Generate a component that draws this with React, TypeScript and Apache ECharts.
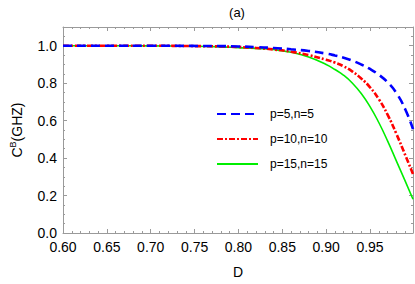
import React, { useEffect, useRef } from "react";
import * as echarts from "echarts";

const dValues = [0.60, 0.65, 0.70, 0.75, 0.78, 0.80, 0.82, 0.84, 0.86, 0.88, 0.90, 0.91, 0.92, 0.93, 0.94, 0.95, 0.96, 0.97, 0.98, 0.99, 0.999];
const blueValues = [1.0, 1.0, 1.0, 0.999, 0.998, 0.996, 0.993, 0.988, 0.981, 0.972, 0.958, 0.948, 0.936, 0.92, 0.90, 0.876, 0.845, 0.805, 0.748, 0.662, 0.555];
const redValues = [1.0, 1.0, 1.0, 0.998, 0.996, 0.993, 0.988, 0.98, 0.968, 0.95, 0.925, 0.91, 0.89, 0.862, 0.825, 0.778, 0.715, 0.632, 0.53, 0.418, 0.315];
const greenValues = [1.0, 1.0, 0.999, 0.997, 0.994, 0.99, 0.986, 0.98, 0.965, 0.94, 0.90, 0.873, 0.842, 0.80, 0.745, 0.675, 0.59, 0.492, 0.385, 0.278, 0.18];
const seriesNames = ["p=5,n=5", "p=10,n=10", "p=15,n=15"];

const pair = (ys: number[]) => dValues.map((d, i) => [d, ys[i]]);

export default function App() {
  const ref = useRef<HTMLDivElement>(null);
  useEffect(() => {
    if (!ref.current) return;
    const chart = echarts.init(ref.current, null, { renderer: "svg" });
    const axisColor = "#9a9a9a";
    const font = "Liberation Sans, Arial, sans-serif";
    const baseX = {
      type: "value" as const,
      min: 0.6,
      max: 0.999,
      interval: 0.05,
      axisLine: { show: true, onZero: false, lineStyle: { color: axisColor, width: 1 } },
      axisTick: { show: true, inside: true, length: 4, lineStyle: { color: axisColor } },
      minorTick: { show: true, splitNumber: 5, length: 2, lineStyle: { color: axisColor } },
      splitLine: { show: false },
    };
    const baseY = {
      type: "value" as const,
      min: 0,
      max: 1.1,
      interval: 0.2,
      axisLine: { show: true, onZero: false, lineStyle: { color: axisColor, width: 1 } },
      axisTick: { show: true, inside: true, length: 4, lineStyle: { color: axisColor } },
      minorTick: { show: true, splitNumber: 4, length: 2, lineStyle: { color: axisColor } },
      splitLine: { show: false },
    };
    const lineSeries = (name: string, values: number[], lineStyle: object, color: string, z: number) => ({
      name,
      type: "line",
      smooth: 0.5,
      showSymbol: false,
      symbol: "none",
      data: pair(values),
      lineStyle,
      itemStyle: { color },
      z,
    });
    chart.setOption({
      animation: false,
      backgroundColor: "#ffffff",
      title: {
        text: "(a)",
        left: 232,
        top: 1,
        textAlign: "center",
        textStyle: { fontFamily: font, fontSize: 13, fontWeight: "normal", color: "#000" },
      },
      grid: { left: 52, right: 2, top: 27, bottom: 45 },
      legend: {
        orient: "vertical",
        left: 211,
        top: 103,
        itemWidth: 41,
        itemHeight: 10,
        itemGap: 13,
        itemStyle: { opacity: 0 },
        textStyle: { fontFamily: font, fontSize: 12, color: "#000", padding: [0, 0, 0, 7] },
        data: seriesNames,
      },
      xAxis: [
        {
          ...baseX,
          position: "bottom",
          name: "D",
          nameLocation: "middle",
          nameGap: 32,
          nameTextStyle: { fontFamily: font, fontSize: 14, color: "#000" },
          axisLabel: {
            show: true,
            showMaxLabel: false,
            margin: 7,
            fontFamily: font,
            fontSize: 14,
            color: "#000",
            formatter: (v: number) => v.toFixed(2),
          },
        },
        { ...baseX, position: "top", axisLabel: { show: false } },
      ],
      yAxis: [
        {
          ...baseY,
          position: "left",
          name: "{c|C}{s|B}{c|(GHZ)}",
          nameLocation: "middle",
          nameGap: 38,
          nameRotate: 90,
          nameTextStyle: {
            rich: {
              c: { fontFamily: font, fontSize: 14, color: "#000" },
              s: { fontFamily: font, fontSize: 9, color: "#000", verticalAlign: "bottom", padding: [0, 0, 8, 0] },
            },
          },
          axisLabel: {
            show: true,
            showMaxLabel: false,
            margin: 6,
            fontFamily: font,
            fontSize: 14,
            color: "#000",
            formatter: (v: number) => v.toFixed(1),
          },
        },
        { ...baseY, position: "right", axisLabel: { show: false } },
      ],
      series: [
        lineSeries(seriesNames[0], blueValues, { color: "#0000ff", width: 2.6, type: [9, 5] }, "#0000ff", 3),
        lineSeries(seriesNames[1], redValues, { color: "#ff0000", width: 2.6, type: [6, 2, 2, 2] }, "#ff0000", 2),
        lineSeries(seriesNames[2], greenValues, { color: "#00ee00", width: 1.6 }, "#00ee00", 1),
      ],
    });
    return () => chart.dispose();
  }, []);
  return (
    <div
      ref={ref}
      style={{ position: "fixed", left: 0, top: 0, width: 415, height: 284, background: "#fff" }}
    />
  );
}
